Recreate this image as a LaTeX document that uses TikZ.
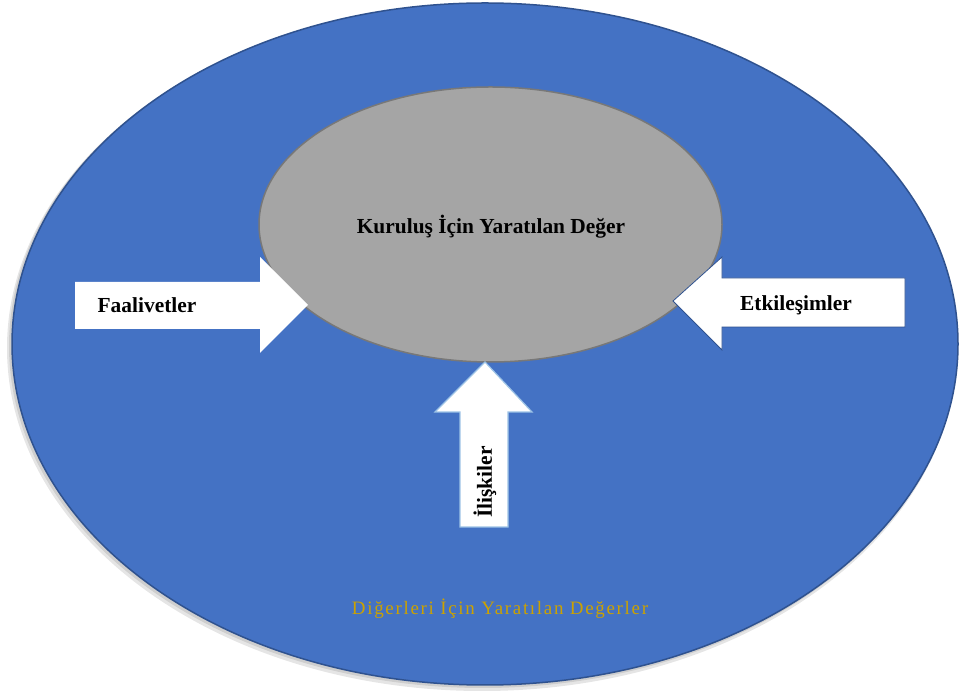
\documentclass[tikz,border=0pt]{standalone}
\usepackage{fontspec}
\setmainfont{Liberation Serif}
\usetikzlibrary{shapes}

\definecolor{outerfill}{RGB}{68,114,196}
\definecolor{outerline}{RGB}{47,82,143}
\definecolor{innerfill}{RGB}{165,165,165}
\definecolor{innerline}{RGB}{120,120,120}
\definecolor{goldtext}{RGB}{204,162,0}
\definecolor{upline}{RGB}{157,195,230}

\begin{document}
\begin{tikzpicture}[line join=miter,
  arrowshape/.style={fill=white},
  labeltext/.style={font=\bfseries\fontsize{21.5}{25}\selectfont,text=black}]

\useasboundingbox (0bp,0bp) rectangle (962bp,691bp);
\clip (0bp,0bp) rectangle (962bp,691bp);

% Node: outer (shadow)
\fill [black,opacity=0.10] (482bp,343bp) ellipse (475bp and 343bp);
\fill [black,opacity=0.10] (483bp,345bp) ellipse (474bp and 342bp);

% Node: outer
\draw [fill=outerfill,draw=outerline,line width=1.5bp] (485bp,347bp) ellipse (473bp and 341bp);

% Node: inner
\draw [fill=innerfill,draw=innerline,line width=1.5bp] (490.5bp,466.5bp) ellipse (231.5bp and 137.5bp);

% Edge: Faalivetler -> inner
\fill [arrowshape] (75bp,409bp) -- (260bp,409bp) -- (260bp,434bp) -- (308bp,386bp)
  -- (260bp,338bp) -- (260bp,362bp) -- (75bp,362bp) -- cycle;

% Edge: Etkilesimler -> inner
\filldraw [arrowshape,draw=outerline,line width=0.8bp] (905bp,413bp) -- (722bp,413bp) -- (722bp,434bp) -- (673bp,390bp)
  -- (722bp,341bp) -- (722bp,364bp) -- (905bp,364bp) -- cycle;

% Edge: Iliskiler -> inner
\filldraw [arrowshape,draw=upline,line width=1.2bp] (460bp,164bp) -- (460bp,279bp) -- (435bp,279bp) -- (485bp,329bp)
  -- (532bp,279bp) -- (508bp,279bp) -- (508bp,164bp) -- cycle;

% Node: labels
\node [labeltext] (kurulus) at (491bp,464bp) {Kuruluş İçin Yaratılan Değer};
\node [labeltext] (faaliyet) at (147bp,386bp) {Faalivetler};
\node [labeltext] (etkilesim) at (796bp,386bp) {Etkileşimler};
\node [labeltext,rotate=90] (iliski) at (485bp,209bp) {İlişkiler};
\node [font=\fontsize{19}{23}\selectfont\addfontfeature{LetterSpace=9},text=goldtext] (digerleri) at (500bp,82bp) {Diğerleri İçin Yaratılan Değerler};

\end{tikzpicture}
\end{document}
